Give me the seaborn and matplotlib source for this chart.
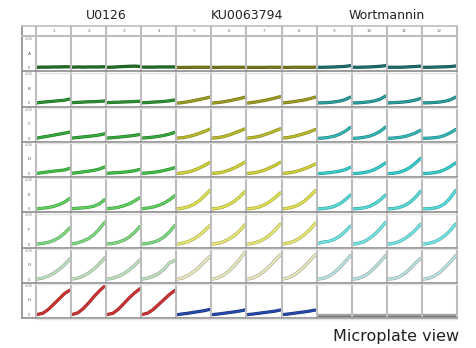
import numpy as np
import pandas as pd
import matplotlib
matplotlib.use("Agg")
import matplotlib.pyplot as plt
import matplotlib.patheffects as pe
from matplotlib.lines import Line2D
from matplotlib.colors import to_rgb
import seaborn as sns

# Time points (hours) and plate layout
hours = [0, 4, 8, 12, 16, 20, 24]
rows = list("ABCDEFGH")
columns = list(range(1, 13))
compounds = ["U0126", "KU0063794", "Wortmannin"]
y_max = 2.06

# Growth readings per well, one list per plate row (columns 1..12)
row_A = [
    [0.07, 0.08, 0.08, 0.09, 0.09, 0.10, 0.10],
    [0.08, 0.09, 0.08, 0.09, 0.09, 0.09, 0.10],
    [0.07, 0.08, 0.10, 0.12, 0.14, 0.15, 0.13],
    [0.08, 0.08, 0.08, 0.09, 0.09, 0.09, 0.09],
    [0.06, 0.06, 0.06, 0.07, 0.07, 0.07, 0.07],
    [0.06, 0.06, 0.07, 0.07, 0.07, 0.07, 0.07],
    [0.06, 0.06, 0.06, 0.06, 0.07, 0.07, 0.07],
    [0.06, 0.06, 0.07, 0.07, 0.07, 0.07, 0.07],
    [0.07, 0.07, 0.08, 0.09, 0.11, 0.13, 0.18],
    [0.07, 0.07, 0.08, 0.09, 0.11, 0.14, 0.18],
    [0.07, 0.07, 0.07, 0.08, 0.10, 0.12, 0.15],
    [0.07, 0.07, 0.08, 0.09, 0.10, 0.12, 0.16],
]
row_B = [
    [0.05, 0.09, 0.13, 0.16, 0.20, 0.23, 0.32],
    [0.06, 0.08, 0.10, 0.12, 0.13, 0.15, 0.18],
    [0.06, 0.08, 0.09, 0.11, 0.12, 0.14, 0.16],
    [0.05, 0.07, 0.10, 0.12, 0.15, 0.19, 0.25],
    [0.03, 0.07, 0.13, 0.20, 0.28, 0.36, 0.45],
    [0.03, 0.07, 0.12, 0.19, 0.27, 0.35, 0.45],
    [0.03, 0.08, 0.14, 0.21, 0.29, 0.38, 0.48],
    [0.04, 0.08, 0.13, 0.19, 0.25, 0.34, 0.45],
    [0.04, 0.05, 0.07, 0.11, 0.17, 0.27, 0.45],
    [0.04, 0.05, 0.08, 0.12, 0.19, 0.30, 0.52],
    [0.04, 0.06, 0.08, 0.11, 0.16, 0.24, 0.35],
    [0.04, 0.05, 0.07, 0.10, 0.16, 0.26, 0.45],
]
row_C = [
    [0.05, 0.12, 0.18, 0.25, 0.32, 0.39, 0.47],
    [0.05, 0.09, 0.13, 0.17, 0.21, 0.27, 0.35],
    [0.05, 0.08, 0.11, 0.15, 0.19, 0.24, 0.30],
    [0.05, 0.08, 0.12, 0.17, 0.24, 0.33, 0.45],
    [0.05, 0.08, 0.15, 0.25, 0.38, 0.52, 0.68],
    [0.05, 0.08, 0.15, 0.26, 0.40, 0.55, 0.70],
    [0.05, 0.09, 0.16, 0.27, 0.40, 0.55, 0.70],
    [0.05, 0.09, 0.16, 0.26, 0.37, 0.50, 0.65],
    [0.03, 0.05, 0.10, 0.18, 0.32, 0.52, 0.80],
    [0.03, 0.05, 0.10, 0.18, 0.32, 0.52, 0.82],
    [0.03, 0.05, 0.09, 0.15, 0.26, 0.40, 0.60],
    [0.03, 0.04, 0.07, 0.12, 0.24, 0.42, 0.65],
]
row_D = [
    [0.05, 0.10, 0.15, 0.20, 0.24, 0.28, 0.40],
    [0.05, 0.10, 0.15, 0.20, 0.26, 0.35, 0.50],
    [0.05, 0.08, 0.10, 0.13, 0.17, 0.23, 0.33],
    [0.05, 0.08, 0.12, 0.17, 0.25, 0.34, 0.45],
    [0.04, 0.08, 0.15, 0.26, 0.42, 0.60, 0.82],
    [0.04, 0.08, 0.15, 0.27, 0.43, 0.62, 0.85],
    [0.04, 0.08, 0.15, 0.26, 0.42, 0.60, 0.82],
    [0.04, 0.08, 0.14, 0.24, 0.37, 0.52, 0.70],
    [0.03, 0.05, 0.09, 0.14, 0.20, 0.30, 0.47],
    [0.03, 0.05, 0.10, 0.18, 0.32, 0.52, 0.78],
    [0.03, 0.05, 0.12, 0.25, 0.45, 0.75, 1.10],
    [0.03, 0.05, 0.09, 0.17, 0.31, 0.52, 0.78],
]
row_E = [
    [0.04, 0.07, 0.12, 0.20, 0.32, 0.50, 0.75],
    [0.04, 0.07, 0.10, 0.14, 0.22, 0.38, 0.68],
    [0.04, 0.08, 0.14, 0.24, 0.38, 0.58, 0.82],
    [0.04, 0.09, 0.16, 0.27, 0.44, 0.67, 0.96],
    [0.03, 0.08, 0.18, 0.35, 0.60, 0.95, 1.34],
    [0.03, 0.08, 0.17, 0.33, 0.56, 0.88, 1.25],
    [0.03, 0.07, 0.15, 0.30, 0.52, 0.80, 1.15],
    [0.03, 0.08, 0.17, 0.34, 0.58, 0.92, 1.30],
    [0.03, 0.05, 0.10, 0.20, 0.38, 0.65, 1.00],
    [0.03, 0.05, 0.10, 0.20, 0.38, 0.65, 1.00],
    [0.03, 0.05, 0.12, 0.25, 0.48, 0.82, 1.27],
    [0.03, 0.04, 0.08, 0.18, 0.40, 0.80, 1.32],
]
row_F = [
    [0.04, 0.08, 0.15, 0.28, 0.48, 0.78, 1.17],
    [0.04, 0.12, 0.25, 0.42, 0.70, 1.10, 1.57],
    [0.04, 0.08, 0.16, 0.30, 0.52, 0.85, 1.27],
    [0.04, 0.08, 0.16, 0.30, 0.54, 0.90, 1.35],
    [0.03, 0.10, 0.22, 0.40, 0.65, 0.98, 1.35],
    [0.03, 0.09, 0.20, 0.38, 0.63, 0.97, 1.40],
    [0.03, 0.09, 0.20, 0.38, 0.64, 1.00, 1.43],
    [0.03, 0.10, 0.22, 0.42, 0.70, 1.05, 1.50],
    [0.08, 0.18, 0.22, 0.36, 0.58, 0.90, 1.30],
    [0.03, 0.08, 0.20, 0.42, 0.72, 1.10, 1.55],
    [0.03, 0.08, 0.20, 0.40, 0.66, 1.00, 1.43],
    [0.03, 0.08, 0.18, 0.36, 0.62, 0.98, 1.45],
]
row_G = [
    [0.05, 0.12, 0.25, 0.45, 0.72, 1.05, 1.45],
    [0.05, 0.12, 0.26, 0.48, 0.76, 1.12, 1.55],
    [0.05, 0.11, 0.24, 0.42, 0.68, 1.00, 1.40],
    [0.05, 0.12, 0.25, 0.45, 0.75, 1.20, 1.35],
    [0.05, 0.14, 0.32, 0.58, 0.90, 1.28, 1.65],
    [0.05, 0.14, 0.33, 0.62, 1.00, 1.45, 1.95],
    [0.05, 0.14, 0.32, 0.60, 0.95, 1.35, 1.75],
    [0.05, 0.14, 0.32, 0.60, 0.95, 1.35, 1.75],
    [0.04, 0.10, 0.25, 0.50, 0.85, 1.25, 1.70],
    [0.04, 0.10, 0.25, 0.50, 0.85, 1.25, 1.70],
    [0.04, 0.08, 0.20, 0.42, 0.75, 1.15, 1.50],
    [0.04, 0.10, 0.25, 0.50, 0.85, 1.25, 1.70],
]
row_H = [
    [0.04, 0.12, 0.38, 0.75, 1.12, 1.50, 1.75],
    [0.04, 0.15, 0.45, 0.85, 1.30, 1.70, 2.05],
    [0.04, 0.12, 0.40, 0.80, 1.20, 1.55, 1.85],
    [0.04, 0.14, 0.40, 0.75, 1.10, 1.45, 1.73],
    [0.03, 0.08, 0.13, 0.19, 0.25, 0.31, 0.40],
    [0.03, 0.07, 0.12, 0.17, 0.22, 0.28, 0.36],
    [0.03, 0.07, 0.12, 0.17, 0.22, 0.27, 0.35],
    [0.03, 0.07, 0.12, 0.17, 0.22, 0.28, 0.35],
    [0.00, 0.00, 0.00, 0.00, 0.00, 0.00, 0.00],
    [0.00, 0.00, 0.00, 0.00, 0.00, 0.00, 0.00],
    [0.00, 0.00, 0.00, 0.00, 0.00, 0.00, 0.00],
    [0.00, 0.00, 0.00, 0.00, 0.00, 0.00, 0.00],
]
plate = [row_A, row_B, row_C, row_D, row_E, row_F, row_G, row_H]

# Dose shades (rows A-G) for each compound, plus the control row H
u0126_colors = ["#1f6b24", "#2a9030", "#33a83a", "#40bb44", "#5ccf5c", "#7ed87e", "#b8e2b8"]
ku_colors = ["#77771c", "#9a9a22", "#b8b82c", "#cfcf38", "#dede50", "#e6e670", "#ecebb8"]
wort_colors = ["#1d6b6b", "#2a9c9c", "#33b5b5", "#35cccc", "#55dada", "#72e2e2", "#b4e4e4"]
control_colors = ["#cc3333", "#2547a8", "#a0a0a0"]
group_colors = [u0126_colors, ku_colors, wort_colors]

records = []
for r, row_vals in zip(rows, plate):
    for c, vals in zip(columns, row_vals):
        for t, v in zip(hours, vals):
            records.append({"row": r, "col": c, "hour": t, "od": v})
df = pd.DataFrame(records)

sns.set_theme(style="white")
plt.rcParams["font.family"] = ["DejaVu Sans"]

W, H = 477, 348
fig = plt.figure(figsize=(W / 100, H / 100), dpi=100)
fig.patch.set_facecolor("white")

grid_left, cell_left, grid_right = 22, 36, 457
grid_top, head_bottom, grid_bottom = 26, 36, 318
cw = (grid_right - cell_left) / 12
rh = (grid_bottom - head_bottom) / 8


def fx(px):
    return px / W


def fy(py):
    return 1 - py / H


def darker(color, k=0.72):
    rgb = np.array(to_rgb(color))
    return tuple(rgb * k)


pad = 3.0 / (rh - 6.0) * y_max

for ri, r in enumerate(rows):
    for ci, c in enumerate(columns):
        x0 = cell_left + ci * cw
        y0 = head_bottom + ri * rh
        ax = fig.add_axes([fx(x0), fy(y0 + rh), cw / W, rh / H])
        ax.set_axis_off()
        g = ci // 4
        color = group_colors[g][ri] if ri < 7 else control_colors[g]
        edge = "#9a9a9a" if ri == 6 else darker(color, 0.72)
        sub = df[(df["row"] == r) & (df["col"] == c)]
        sns.lineplot(data=sub, x="hour", y="od", ax=ax, color=color,
                     linewidth=1.5, legend=False,
                     path_effects=[pe.Stroke(linewidth=2.3, foreground=edge),
                                   pe.Normal()])
        ax.set_xlim(-1.0, 25.0)
        ax.set_ylim(-pad, y_max + pad)

# Plate grid
vcol = "#bdbdbd"
hcol = "#8c8c8c"
for ci in range(13):
    x = cell_left + ci * cw
    fig.add_artist(Line2D([fx(x), fx(x)], [fy(grid_top), fy(grid_bottom)],
                          color=vcol, lw=1.5))
fig.add_artist(Line2D([fx(grid_left), fx(grid_left)], [fy(grid_top), fy(grid_bottom)],
                      color=hcol, lw=1.2))
fig.add_artist(Line2D([fx(grid_left), fx(grid_right)], [fy(grid_top), fy(grid_top)],
                      color=vcol, lw=1.2))
fig.add_artist(Line2D([fx(grid_left), fx(grid_right)], [fy(head_bottom), fy(head_bottom)],
                      color=vcol, lw=1.5))
for ri in range(1, 9):
    y = head_bottom + ri * rh
    fig.add_artist(Line2D([fx(grid_left), fx(grid_right)], [fy(y), fy(y)],
                          color=hcol, lw=1.2))
    fig.add_artist(Line2D([fx(cell_left), fx(grid_right)], [fy(y + 1.3), fy(y + 1.3)],
                          color="#e2e2e2", lw=1.0))

# Column numbers and row labels
for ci, c in enumerate(columns):
    fig.text(fx(cell_left + (ci + 0.5) * cw), fy((grid_top + head_bottom) / 2), str(c),
             ha="center", va="center", fontsize=3, color="#666666")
for ri, r in enumerate(rows):
    y0 = head_bottom + ri * rh
    xm = (grid_left + cell_left) / 2
    fig.text(fx(xm), fy(y0 + 3), f"{y_max:.2f}", ha="center", va="center",
             fontsize=2.6, color="#888888")
    fig.text(fx(xm), fy(y0 + rh / 2), r, ha="center", va="center",
             fontsize=3.2, color="#555555")
    fig.text(fx(xm), fy(y0 + rh - 3), "0", ha="center", va="center",
             fontsize=2.6, color="#555555")

# Compound headers
for gi, name in enumerate(compounds):
    xc = cell_left + (gi * 4 + 2) * cw
    fig.text(fx(xc), fy(15.5), name, ha="center", va="center",
             fontsize=9, color="#222222")

fig.text(fx(396), fy(337), "Microplate view", ha="center", va="center",
         fontsize=11.5, color="#222222")

fig.savefig("out.png", dpi=100, facecolor="white")
